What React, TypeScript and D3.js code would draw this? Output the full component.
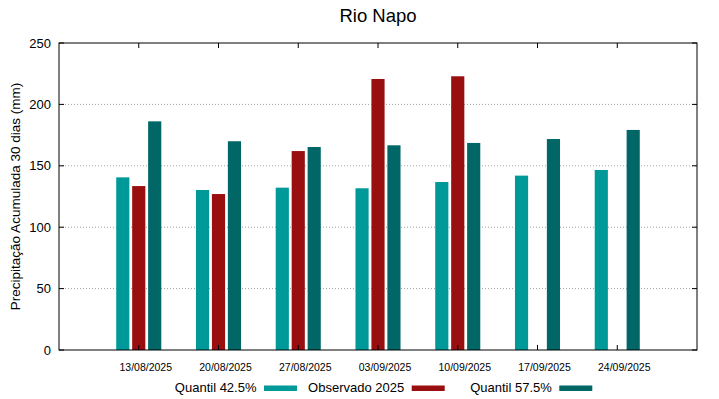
import React from "react";
import * as d3 from "d3";

const categories = ["13/08/2025", "20/08/2025", "27/08/2025", "03/09/2025", "10/09/2025", "17/09/2025", "24/09/2025"];
const quantil425 = [140.6, 130.3, 132.2, 131.7, 136.8, 142.0, 146.6];
const observado2025: (number | null)[] = [133.5, 127.0, 162.0, 220.7, 222.9, null, null];
const quantil575 = [186.2, 170.0, 165.3, 166.7, 168.6, 171.8, 179.2];
const yTicks = [0, 50, 100, 150, 200, 250];

const W = 719, H = 399;
const L = 59, R = 697, T = 43, B = 350;
const FONT = "'Liberation Sans', Arial, sans-serif";

const C1 = "#009999";
const C2 = "#990e0e";
const C3 = "#006666";

export default function App() {
  const x = d3.scaleLinear().domain([-1, 7]).range([L, R]);
  const y = d3.scaleLinear().domain([0, 250]).range([B, T]);
  const bw = x(0.165) - x(0);
  const series = [
    { name: "Quantil 42.5%", values: quantil425 as (number | null)[], color: C1, off: -0.2 },
    { name: "Observado 2025", values: observado2025, color: C2, off: 0 },
    { name: "Quantil 57.5%", values: quantil575 as (number | null)[], color: C3, off: 0.2 },
  ];
  const legendX = [264, 411.7, 559.3];
  return (
    <svg width={W} height={H} style={{ position: "absolute", left: 0, top: 0, background: "#fff" }} fontFamily={FONT}>
      <rect x={0} y={0} width={W} height={H} fill="#fff" />
      <text x={(L + R) / 2} y={22} textAnchor="middle" fontSize={18.5} fill="#000">Rio Napo</text>
      {yTicks.filter(t => t > 0 && t < 250).map(t => (
        <line key={"g" + t} x1={L} x2={R} y1={y(t)} y2={y(t)} stroke="#a0a0a0" strokeWidth={1} strokeDasharray="1,2" />
      ))}
      {series.map(s => s.values.map((v, i) => v == null ? null : (
        <rect key={s.name + i} x={x(i + s.off) - bw / 2} y={y(v)} width={bw} height={y(0) - y(v)} fill={s.color} />
      )))}
      {yTicks.map(t => (
        <g key={"yt" + t}>
          <line x1={L} x2={L + 5} y1={y(t)} y2={y(t)} stroke="#000" />
          <line x1={R - 5} x2={R} y1={y(t)} y2={y(t)} stroke="#000" />
          <text x={51} y={y(t) + 4.5} textAnchor="end" fontSize={13} fill="#000">{t}</text>
        </g>
      ))}
      {categories.map((c, i) => (
        <g key={c}>
          <line x1={x(i)} x2={x(i)} y1={B} y2={B - 5} stroke="#000" />
          <line x1={x(i)} x2={x(i)} y1={T} y2={T + 5} stroke="#000" />
          <text x={x(i) + 7} y={370.5} textAnchor="middle" fontSize={10.5} fill="#000">{c}</text>
        </g>
      ))}
      <rect x={L} y={T} width={R - L} height={B - T} fill="none" stroke="#000" strokeWidth={1} />
      <text transform={`translate(20,${(T + B) / 2}) rotate(-90)`} textAnchor="middle" fontSize={13.5} fill="#000">
        Precipitação Acumulada 30 dias (mm)
      </text>
      {series.map((s, i) => (
        <g key={"lg" + i}>
          <text x={legendX[i] - 7.5} y={392} textAnchor="end" fontSize={13} fill="#000">{s.name}</text>
          <rect x={legendX[i]} y={385.5} width={33} height={5.5} fill={s.color} />
        </g>
      ))}
    </svg>
  );
}
